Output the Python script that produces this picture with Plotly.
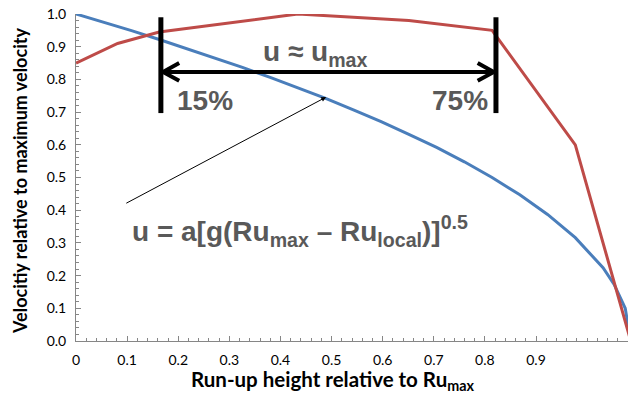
import plotly.graph_objects as go

# ---- data ----
tick_vals = [0, 0.1, 0.2, 0.3, 0.4, 0.5, 0.6, 0.7, 0.8, 0.9]
tick_text = ["0", "0.1", "0.2", "0.3", "0.4", "0.5", "0.6", "0.7", "0.8", "0.9"]

red_x = [0, 0.075, 0.15, 0.4, 0.6, 0.75, 0.9, 1.0]
red_y = [0.85, 0.91, 0.945, 1.0, 0.98, 0.95, 0.6, 0.0]

blue_x = [0, 0.05, 0.1, 0.15, 0.2, 0.25, 0.3, 0.35, 0.4, 0.45, 0.5, 0.55, 0.6,
          0.65, 0.7, 0.75, 0.8, 0.85, 0.9, 0.95, 0.97, 0.99, 1.0]
blue_y = [1.0, 0.975, 0.949, 0.922, 0.894, 0.866, 0.837, 0.806, 0.775, 0.742,
          0.707, 0.671, 0.632, 0.592, 0.548, 0.5, 0.447, 0.387, 0.316, 0.224,
          0.173, 0.1, 0.0]

zone_start, zone_end = 0.153, 0.757
bar_bottom, bar_top = 0.697, 0.99
arrow_y = 0.823

BLUE = "#4A7EBB"
RED = "#BE4B48"
AX = "#868686"
TXT = "#595959"
FONT = "Liberation Sans, Arial, sans-serif"
TICKFONT = "Lato, Calibri, sans-serif"

fig = go.Figure()
# invisible anchor trace so the labelled category-style axis is drawn
fig.add_trace(go.Scatter(x=tick_vals, y=[0] * len(tick_vals), mode="markers",
                         xaxis="x", yaxis="y", marker=dict(opacity=0),
                         hoverinfo="skip", showlegend=False))
fig.add_trace(go.Scatter(x=blue_x, y=blue_y, mode="lines", xaxis="x2", yaxis="y",
                         line=dict(color=BLUE, width=3), showlegend=False))
fig.add_trace(go.Scatter(x=red_x, y=red_y, mode="lines", xaxis="x2", yaxis="y",
                         line=dict(color=RED, width=3), showlegend=False))

shapes = []
for xv in (zone_start, zone_end):
    shapes.append(dict(type="line", xref="x2", yref="y", x0=xv, x1=xv,
                       y0=bar_bottom, y1=bar_top, line=dict(color="black", width=5)))
shapes.append(dict(type="line", xref="x2", yref="y", x0=zone_start + 0.004, x1=zone_end - 0.004,
                   y0=arrow_y, y1=arrow_y, line=dict(color="black", width=4)))
dx, dy = 0.029, 0.027
for tip, sgn in ((zone_start + 0.004, 1), (zone_end - 0.004, -1)):
    shapes.append(dict(type="path", xref="x2", yref="y",
                       path=f"M {tip + sgn*dx} {arrow_y + dy} L {tip} {arrow_y} L {tip + sgn*dx} {arrow_y - dy}",
                       line=dict(color="black", width=4)))

ann = []
ann.append(dict(text="<b>u ≈ u<sub>max</sub></b>", x=0.43, y=0.88, xref="x2", yref="y",
                showarrow=False, font=dict(family=FONT, size=28, color=TXT)))
ann.append(dict(text="<b>15%</b>", x=0.232, y=0.737, xref="x2", yref="y",
                showarrow=False, font=dict(family=FONT, size=28, color=TXT)))
ann.append(dict(text="<b>75%</b>", x=0.692, y=0.737, xref="x2", yref="y",
                showarrow=False, font=dict(family=FONT, size=28, color=TXT)))
ann.append(dict(text="<b>u = a[g(Ru<sub>max</sub> – Ru<sub>local</sub>)]<sup>0.5</sup></b>",
                x=0.097, y=0.335, xref="x2", yref="y", xanchor="left",
                showarrow=False, font=dict(family=FONT, size=28, color=TXT)))
ann.append(dict(text="", x=0.451, y=0.746, xref="x2", yref="y",
                ax=0.088, ay=0.419, axref="x2", ayref="y",
                showarrow=True, arrowhead=2, arrowsize=1, arrowwidth=1, arrowcolor="black"))
ann.append(dict(text="<b>Velocitiy relative to maximum velocity</b>", textangle=-90,
                x=-0.101, y=0.49, xref="paper", yref="paper", showarrow=False,
                xanchor="center", yanchor="middle",
                font=dict(family=TICKFONT, size=18, color="black")))
ann.append(dict(text="<b>Run-up height relative to Ru<sub>max</sub></b>",
                x=0.464, y=-0.12, xref="paper", yref="paper", showarrow=False,
                xanchor="center", yanchor="middle",
                font=dict(family=TICKFONT, size=20.5, color="black")))

fig.update_layout(
    width=629, height=399,
    margin=dict(l=76, r=1, t=14, b=58, autoexpand=False),
    paper_bgcolor="white", plot_bgcolor="white",
    shapes=shapes, annotations=ann,
    xaxis=dict(range=[0, 1.08], tickvals=tick_vals, ticktext=tick_text,
               ticks="inside", ticklen=5, tickcolor=AX, showline=True, linecolor=AX,
               linewidth=1, showgrid=False, zeroline=False,
               minor=dict(tick0=0, dtick=0.02, ticks="inside", ticklen=3, tickcolor=AX),
               tickfont=dict(family=TICKFONT, size=14, color="black"),
               ticklabelstandoff=6),
    xaxis2=dict(range=[0, 0.995], overlaying="x", visible=False),
    yaxis=dict(range=[0, 1], dtick=0.1, tick0=0, tickformat=".1f",
               ticks="inside", ticklen=5, tickcolor=AX, showline=True, linecolor=AX,
               linewidth=1, showgrid=False, zeroline=False,
               minor=dict(tick0=0, dtick=0.02, ticks="inside", ticklen=3, tickcolor=AX),
               tickfont=dict(family=TICKFONT, size=14, color="black"),
               ticklabelstandoff=6),
)

fig.write_html("out.html")
